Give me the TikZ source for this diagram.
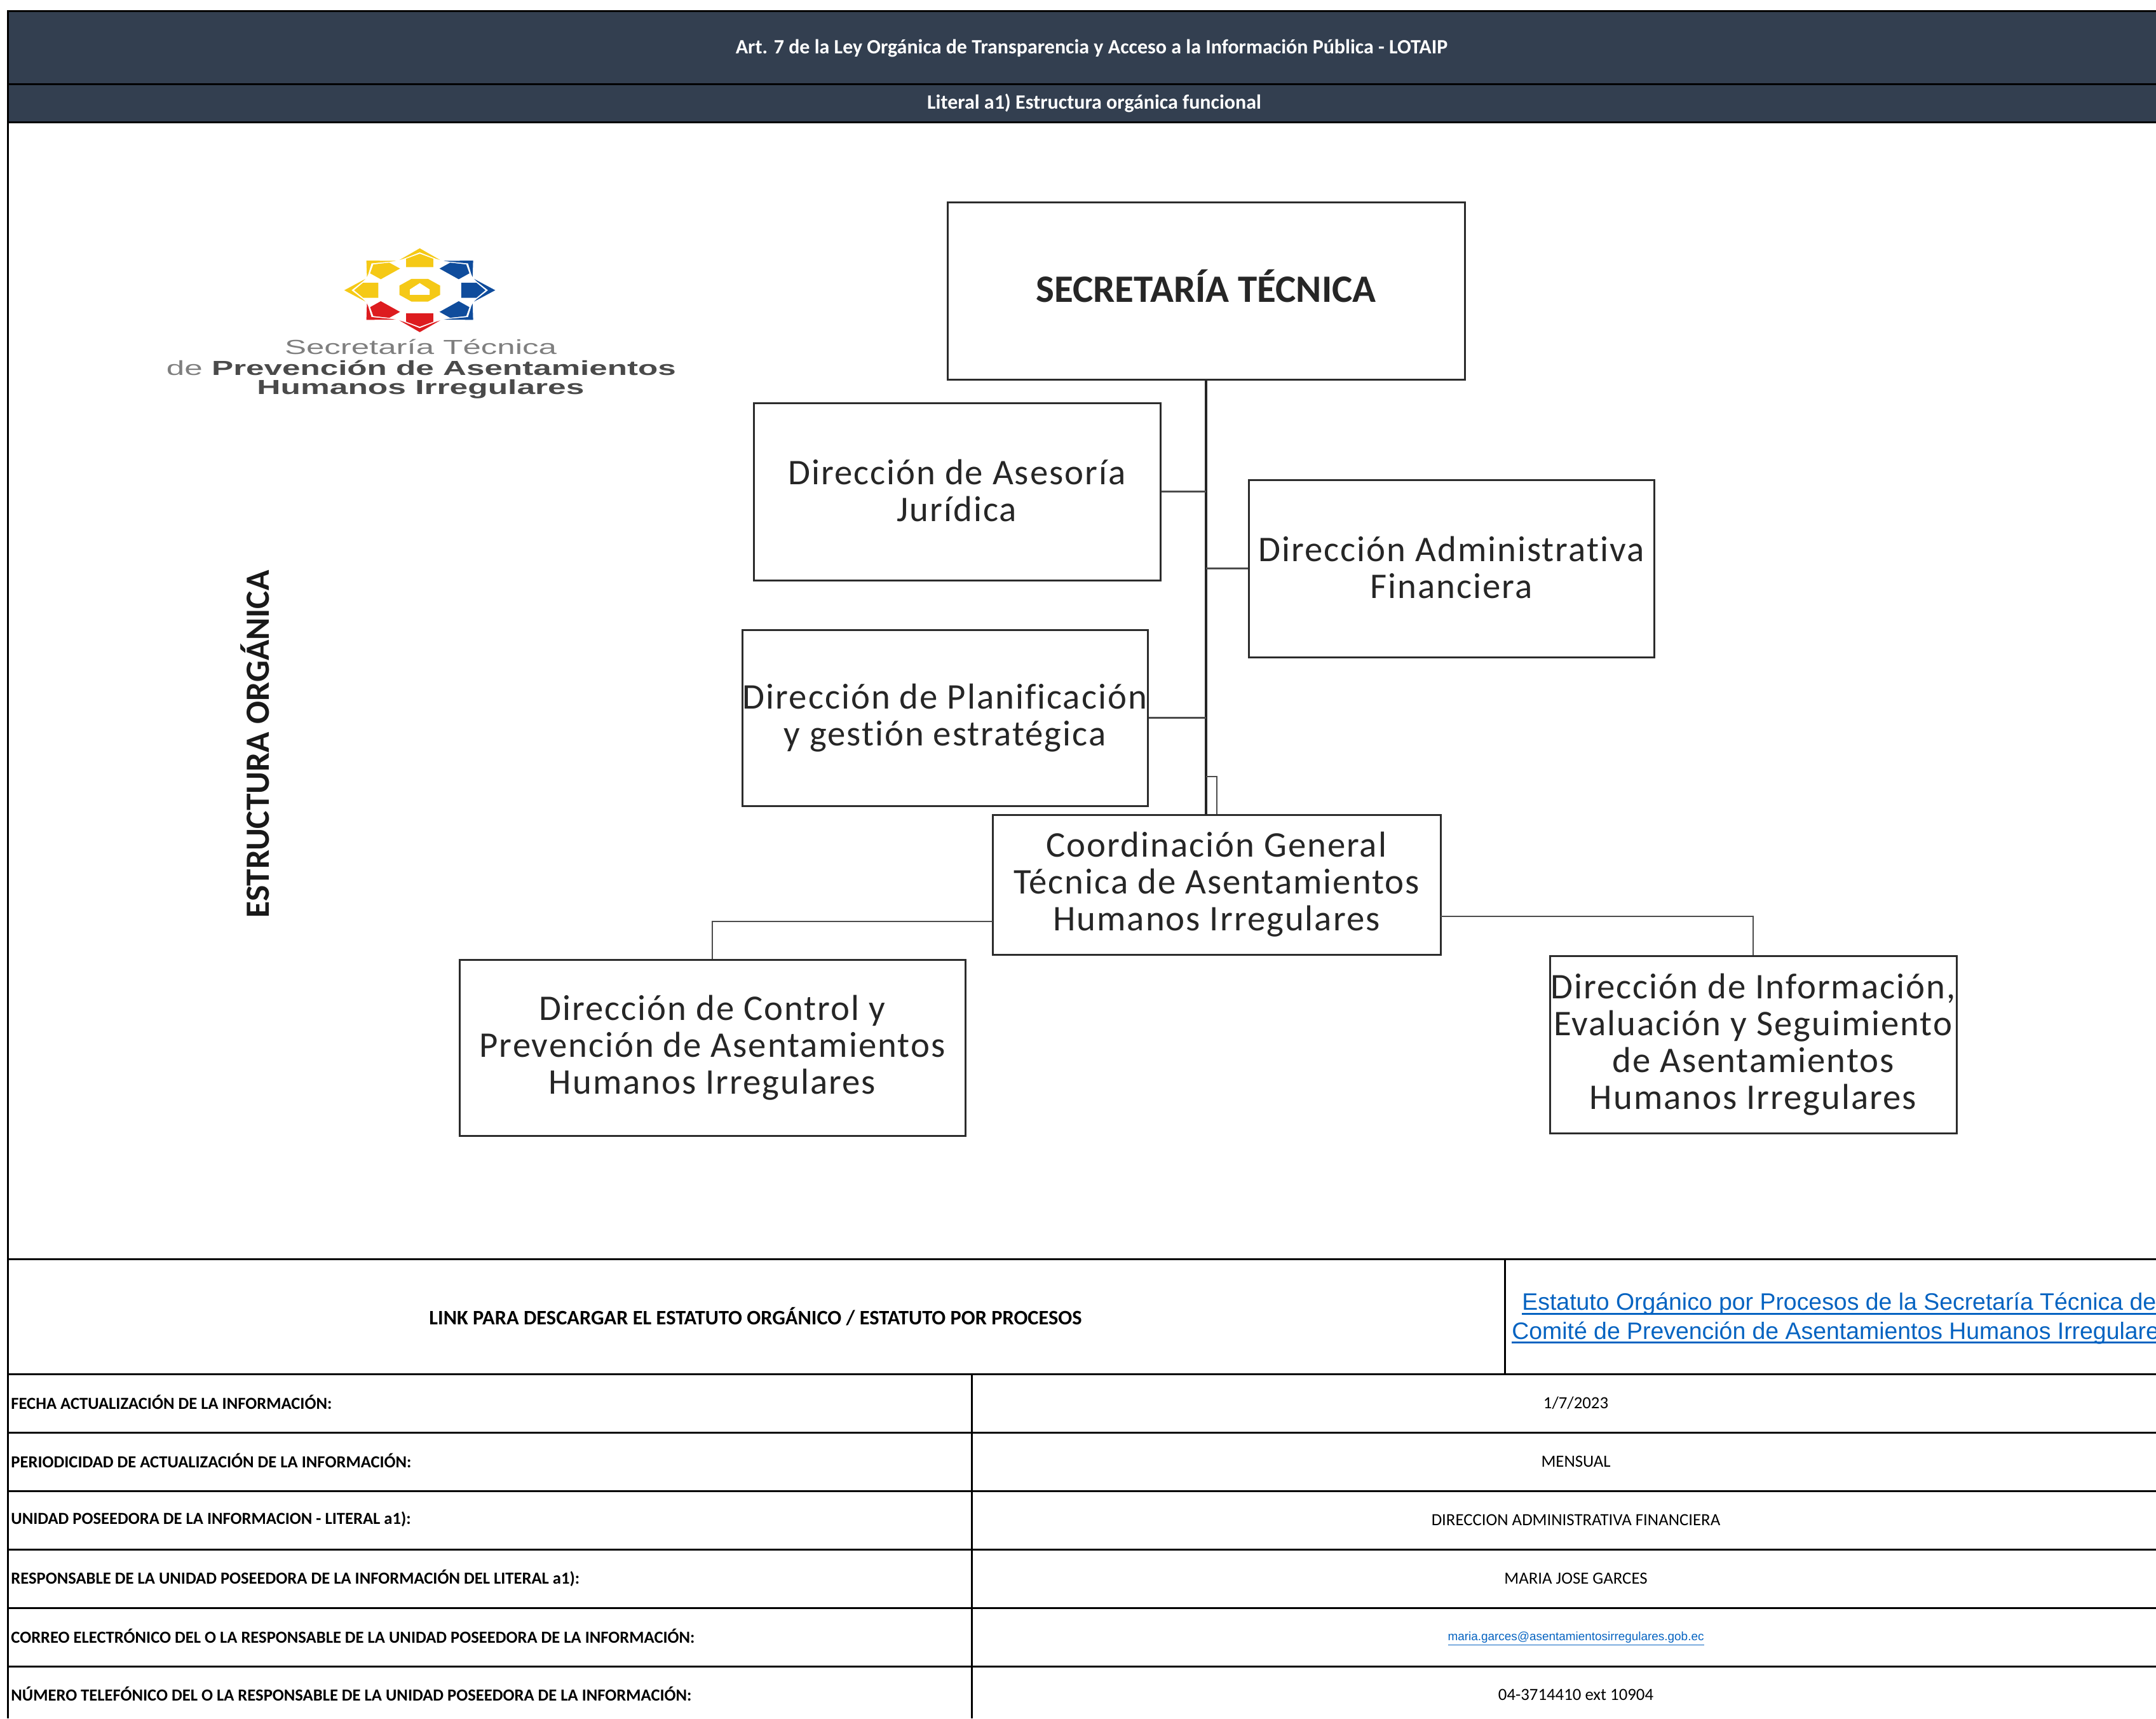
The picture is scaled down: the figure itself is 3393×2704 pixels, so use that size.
\documentclass[tikz,border=0pt]{standalone}
\usepackage{fontspec}
\setmainfont[Ligatures=NoCommon]{Carlito}
\newfontfamily\arialf{Liberation Sans}
\newfontfamily\orgf[LetterSpace=3.5,Ligatures=NoCommon]{Carlito}
\definecolor{headbg}{HTML}{333F50}
\definecolor{linkblue}{HTML}{0563C1}
\definecolor{boxline}{HTML}{2C2C2C}
\definecolor{logoY}{HTML}{F5C916}
\definecolor{logoB}{HTML}{0F4C9C}
\definecolor{logoR}{HTML}{DD1C1F}
\definecolor{logoG}{HTML}{7F7F7F}
\definecolor{logoD}{HTML}{4A4A4A}
\newcommand{\fitw}[2]{\resizebox{#1pt}{\height}{#2}}
\newcommand{\twolines}[2]{\raisebox{-9.3pt}[0pt][0pt]{\begin{tabular}{@{}c@{}}#1\\#2\end{tabular}}}
\tikzset{
  rule/.style={line width=1.5pt,black},
  orgbox/.style={draw=boxline,line width=1.5pt,fill=white,inner sep=0pt,align=center,
    font=\orgf\fontsize{28.4}{29}\selectfont,text=black!85},
  branch/.style={line width=1.2pt,draw=boxline!85},
  trunkline/.style={line width=1.8pt,draw=black!85},
  headtext/.style={text=white,font=\bfseries\fontsize{16}{19}\selectfont,inner sep=0pt},
  rowlabel/.style={anchor=west,font=\bfseries\fontsize{13.3}{16}\selectfont,inner sep=0pt},
  rowvalue/.style={font=\fontsize{13.4}{16}\selectfont,inner sep=0pt},
  linktext/.style={anchor=base west,text=linkblue,inner sep=0pt,font=\arialf\fontsize{18.7}{22}\selectfont},
  linkrule/.style={draw=linkblue,line width=1.5pt},
  logotext/.style={inner sep=0pt,font=\arialf\fontsize{16}{19}\selectfont}
}
\begin{document}
\begin{tikzpicture}[x=0.5pt,y=-0.5pt]
\useasboundingbox (0,0) rectangle (3393,2704);
% header
\fill[headbg] (12,17) rectangle (3393,192);
\draw[rule] (3393,17) -- (12,17) -- (12,2704);
\draw[rule] (12,132) -- (3393,132);
\draw[rule] (12,192) -- (3393,192);
\node[headtext] (h1) at (1718,75.5) {Art. 7 de la Ley Orgánica de Transparencia y Acceso a la Información Pública - LOTAIP};
\node[headtext] (h2) at (1722,162) {Literal a1) Estructura orgánica funcional};
% logo
\begin{scope}[shift={(660.6,456.7)}]
\begin{scope}[x=33pt,y=33pt,xscale=1.8]
  \foreach \a/\c in {90/logoY,135/logoY,180/logoY,45/logoB,0/logoB,-45/logoB,-135/logoR,-90/logoR}{
    \begin{scope}[rotate=\a]
      \fill[\c] (0.55,-.18) -- (0.75,-.18) -- (0.87,0) -- (0.75,.18) -- (0.55,.18) -- cycle;
      \fill[\c] (1,0) -- (.72,.27) -- (.755,.21) -- (.905,0) -- (.755,-.21) -- (.72,-.27) -- cycle;
    \end{scope}
  }
  \fill[logoY] (.27,-.11) -- (.11,-.27) -- (-.11,-.27) -- (-.27,-.11) -- (-.27,.11) -- (-.11,.27) -- (.11,.27) -- (.27,.11) -- cycle;
  \fill[white] (-.13,.02) -- (0,.17) -- (.13,.02) -- (.13,-.11) -- (-.13,-.11) -- cycle;
\end{scope}
\end{scope}
\node[logotext,text=logoG] (l1) at (662,546) {\fitw{214}{Secretaría Técnica}};
\node[logotext] (l2) at (663,579) {\fitw{401}{\textcolor{logoG}{de }\textcolor{logoD}{\bfseries Prevención de Asentamientos}}};
\node[logotext,text=logoD] (l3) at (662,612.5) {\fitw{257.5}{\bfseries Humanos Irregulares}};
% side title
\node[rotate=90,inner sep=0pt,font=\bfseries\fontsize{26.7}{30}\selectfont,text=black!90] (side) at (401,1171) {ESTRUCTURA ORGÁNICA};
% org boxes
\node[orgbox,minimum width=407pt,minimum height=139.5pt,font=\bfseries\fontsize{30.5}{34}\selectfont] (sec) at (1898,457.5) {\raisebox{-9.2pt}[0pt][0pt]{SECRETARÍA TÉCNICA}};
\node[orgbox,minimum width=320pt,minimum height=139.5pt] (ases) at (1506,773.5) {\twolines{Dirección de Asesoría}{Jurídica}};
\node[orgbox,minimum width=319pt,minimum height=139.5pt] (admin) at (2284,894.5) {\twolines{Dirección Administrativa}{Financiera}};
\node[orgbox,minimum width=319pt,minimum height=138.5pt] (plan) at (1487,1129.5) {Dirección de Planificación\\y gestión estratégica};
\node[orgbox,minimum width=352.5pt,minimum height=110pt] (coord) at (1914.5,1392) {Coordinación General\\Técnica de Asentamientos\\Humanos Irregulares};
\node[orgbox,minimum width=398pt,minimum height=138.5pt] (ctrl) at (1121,1648.5) {Dirección de Control y\\Prevención de Asentamientos\\Humanos Irregulares};
\node[orgbox,minimum width=320pt,minimum height=139.5pt] (info) at (2759,1643.5) {Dirección de Información,\\Evaluación y Seguimiento\\de Asentamientos\\Humanos Irregulares};
% connectors
\coordinate (small) at (1915,1222);
\coordinate (cl) at (1562,1450);
\coordinate (cr) at (2267,1442);
\draw[trunkline] (sec.south) -- (sec.south |- coord.north);
\draw[branch] (ases.east) -- (ases.east -| sec.south);
\draw[branch] (admin.west) -- (admin.west -| sec.south);
\draw[branch] (plan.east) -- (plan.east -| sec.south);
\draw[branch] (coord.north -| small) -- (small) -- (small -| sec.south);
\draw[branch] (cl) -| (ctrl.north);
\draw[branch] (cr) -| (info.north);
% table
\draw[rule] (12,1981) -- (3393,1981);
\draw[rule] (12,2162) -- (3393,2162);
\foreach \y in {2254,2346,2438,2530,2622}{\draw[rule] (12,\y) -- (3393,\y);}
\draw[rule] (2368,1981) -- (2368,2162);
\draw[rule] (1529,2162) -- (1529,2704);
\node[inner sep=0pt,font=\bfseries\fontsize{16.2}{19}\selectfont] (lk) at (1189,2072) {LINK PARA DESCARGAR EL ESTATUTO ORGÁNICO / ESTATUTO POR PROCESOS};
\node[linktext] (e1) at (2395,2061) {Estatuto Orgánico por Procesos de la Secretaría Técnica de};
\node[linktext] (e2) at (2379,2107) {Comité de Prevención de Asentamientos Humanos Irregulare};
\coordinate (e1end) at (3393,2067);
\coordinate (e2end) at (3393,2112);
\draw[linkrule] (e1end -| e1.west) -- (e1end);
\draw[linkrule] (e2end -| e2.west) -- (e2end);
\node[rowlabel] (r1) at (17,2206.5) {FECHA ACTUALIZACIÓN DE LA INFORMACIÓN:};
\node[rowlabel] (r2) at (17,2298.5) {PERIODICIDAD DE ACTUALIZACIÓN DE LA INFORMACIÓN:};
\node[rowlabel] (r3) at (17,2391) {UNIDAD POSEEDORA DE LA INFORMACION - LITERAL a1):};
\node[rowlabel] (r4) at (17,2483) {RESPONSABLE DE LA UNIDAD POSEEDORA DE LA INFORMACIÓN DEL LITERAL a1):};
\node[rowlabel] (r5) at (17,2574.5) {CORREO ELECTRÓNICO DEL O LA RESPONSABLE DE LA UNIDAD POSEEDORA DE LA INFORMACIÓN:};
\node[rowlabel] (r6) at (17,2665.5) {NÚMERO TELEFÓNICO DEL O LA RESPONSABLE DE LA UNIDAD POSEEDORA DE LA INFORMACIÓN:};
\node[rowvalue] (v1) at (2480,2208) {1/7/2023};
\node[rowvalue] (v2) at (2480,2300) {MENSUAL};
\node[rowvalue] (v3) at (2480,2392) {DIRECCION ADMINISTRATIVA FINANCIERA};
\node[rowvalue] (v4) at (2480,2484) {MARIA JOSE GARCES};
\node[rowvalue,text=linkblue,font=\arialf\fontsize{9.46}{11}\selectfont] (v5) at (2480,2579) {\underline{maria.garces@asentamientosirregulares.gob.ec}};
\node[rowvalue] (v6) at (2480,2667) {04-3714410 ext 10904};
\end{tikzpicture}
\end{document}
